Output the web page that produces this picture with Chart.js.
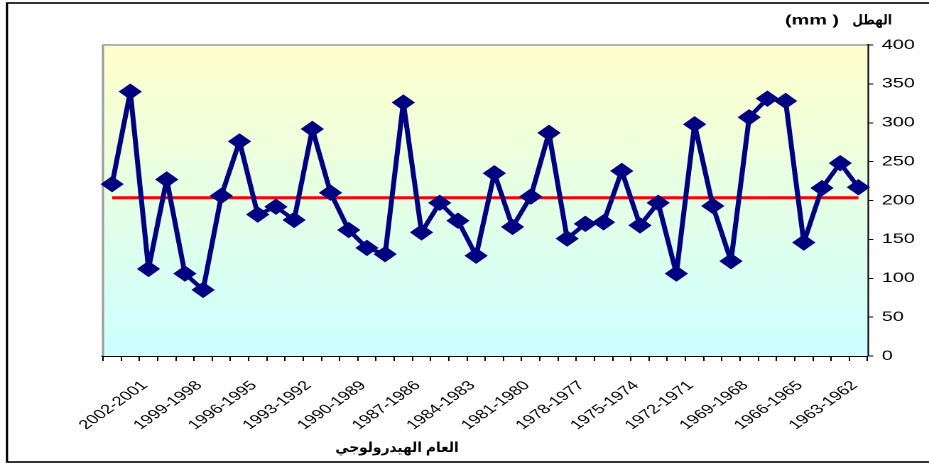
<!DOCTYPE html>
<html>
<head>
<meta charset="utf-8">
<script src="https://cdn.jsdelivr.net/npm/chart.js@4/dist/chart.umd.min.js"></script>
<style>
  html, body { margin: 0; padding: 0; background: #ffffff; }
  #c { display: block; width: 929px; height: 465px; }
</style>
</head>
<body>
<canvas id="c" width="654" height="465" style="width:929px;height:465px;"></canvas>
<script>
// Hydrological years, newest first
const hydroYears = [
  '2002-2001','2001-2000','2000-1999','1999-1998','1998-1997','1997-1996',
  '1996-1995','1995-1994','1994-1993','1993-1992','1992-1991','1991-1990',
  '1990-1989','1989-1988','1988-1987','1987-1986','1986-1985','1985-1984',
  '1984-1983','1983-1982','1982-1981','1981-1980','1980-1979','1979-1978',
  '1978-1977','1977-1976','1976-1975','1975-1974','1974-1973','1973-1972',
  '1972-1971','1971-1970','1970-1969','1969-1968','1968-1967','1967-1966',
  '1966-1965','1965-1964','1964-1963','1963-1962','1962-1961','1961-1960'
];

// Annual rainfall (mm)
const rainfall = [
  221, 340, 112, 227, 106, 85, 206, 276, 182, 192,
  175, 292, 210, 162, 139, 131, 326, 159, 197, 174,
  129, 235, 166, 205, 287, 151, 170, 172, 238, 168,
  197, 106, 298, 193, 122, 307, 331, 328, 146, 216,
  248, 217
];

// Long-term mean rainfall (mm)
const meanRainfall = 203.5;

// Years that carry a label on the horizontal axis
const labelledYears = [
  '2002-2001','1999-1998','1996-1995','1993-1992','1990-1989','1987-1986',
  '1984-1983','1981-1980','1978-1977','1975-1974','1972-1971','1969-1968',
  '1966-1965','1963-1962'
];

// Right-hand axis tick values
const rainTicks = [0, 50, 100, 150, 200, 250, 300, 350, 400];

const yTitleWord = 'الهطل';
const yTitleUnit = '(mm )';
const xTitle = 'العام الهيدرولوجي';

const NAVY = '#000080';

// Draw text squeezed horizontally so that it spans the given width
function fitText(ctx, text, x, y, width, align) {
  const w = ctx.measureText(text).width;
  const k = Math.min(1, width / w);
  const left = align === 'right' ? x - width : align === 'center' ? x - width / 2 : x;
  ctx.save();
  ctx.translate(left, y);
  ctx.scale(k, 1);
  ctx.textAlign = 'left';
  ctx.fillText(text, 0, 0);
  ctx.restore();
}

const frameAndBackground = {
  id: 'frameAndBackground',
  beforeDatasetsDraw(chart) {
    const { ctx, chartArea: a } = chart;
    ctx.save();
    const g = ctx.createLinearGradient(0, a.top, 0, a.bottom);
    g.addColorStop(0, '#FFFFCC');
    g.addColorStop(1, '#CCFFFF');
    ctx.fillStyle = g;
    ctx.fillRect(a.left, a.top, a.right - a.left, a.bottom - a.top);
    ctx.strokeStyle = '#9a9a9a';
    ctx.lineWidth = 1.5;
    ctx.beginPath();
    ctx.moveTo(a.left, a.bottom);
    ctx.lineTo(a.left, a.top);
    ctx.lineTo(a.right, a.top);
    ctx.stroke();
    ctx.restore();
  },
  afterDraw(chart) {
    const { ctx } = chart;
    ctx.save();
    // outer frame
    ctx.strokeStyle = '#000000';
    ctx.lineWidth = 1.6;
    ctx.strokeRect(4.9, 3, 700, 459);
    // titles
    ctx.fillStyle = '#000000';
    ctx.font = 'bold 14px "Liberation Sans", "DejaVu Sans", sans-serif';
    ctx.textBaseline = 'middle';
    ctx.direction = 'ltr';
    fitText(ctx, yTitleWord, 628, 20.5, 28, 'right');
    ctx.textAlign = 'left';
    ctx.fillText(yTitleUnit, 552.6, 20.5);
    fitText(ctx, xTitle, 279.5, 448, 87, 'center');
    ctx.restore();
  }
};

const chart = new Chart(document.getElementById('c'), {
  type: 'line',
  data: {
    labels: hydroYears,
    datasets: [
      {
        label: 'الهطل',
        data: rainfall,
        borderColor: NAVY,
        backgroundColor: NAVY,
        borderWidth: 3.5,
        borderJoinStyle: 'round',
        pointStyle: 'rectRot',
        pointRadius: 7.5,
        pointBorderWidth: 1,
        pointBorderColor: NAVY,
        pointBackgroundColor: NAVY,
        tension: 0,
        fill: false
      },
      {
        label: 'المتوسط',
        data: hydroYears.map(() => meanRainfall),
        borderColor: '#FF0000',
        borderWidth: 3,
        pointRadius: 0,
        tension: 0,
        fill: false
      }
    ]
  },
  options: {
    responsive: false,
    animation: false,
    devicePixelRatio: 2,
    layout: { padding: { left: 72.5, top: 45, right: 0, bottom: 0 } },
    plugins: {
      legend: { display: false },
      tooltip: { enabled: false },
      title: { display: false }
    },
    scales: {
      x: {
        type: 'category',
        offset: true,
        afterFit(scale) { scale.height = 109; },
        grid: {
          offset: true,
          drawOnChartArea: false,
          drawTicks: true,
          tickLength: 5,
          color: '#000000',
          lineWidth: 1
        },
        border: { display: true, color: '#000000', width: 2 },
        ticks: {
          autoSkip: false,
          minRotation: 45,
          maxRotation: 45,
          padding: 17,
          labelOffset: 23,
          color: '#000000',
          font: { family: '"Liberation Sans", Arial, sans-serif', size: 13 },
          callback(value, index) {
            const lbl = hydroYears[index];
            return labelledYears.includes(lbl) ? lbl : '';
          }
        }
      },
      y: {
        position: 'right',
        min: 0,
        max: 400,
        afterFit(scale) { scale.width = 43.3; },
        afterBuildTicks(scale) { scale.ticks = rainTicks.map(v => ({ value: v })); },
        grid: {
          drawOnChartArea: false,
          drawTicks: true,
          tickLength: 4,
          color: '#000000',
          lineWidth: 1
        },
        border: { display: true, color: '#000000', width: 1.8 },
        ticks: {
          padding: 6,
          color: '#000000',
          font: { family: '"Liberation Sans", Arial, sans-serif', size: 14 }
        }
      }
    }
  },
  plugins: [frameAndBackground]
});

const cv = document.getElementById('c');
cv.style.width = '929px';
cv.style.height = '465px';
</script>
</body>
</html>
